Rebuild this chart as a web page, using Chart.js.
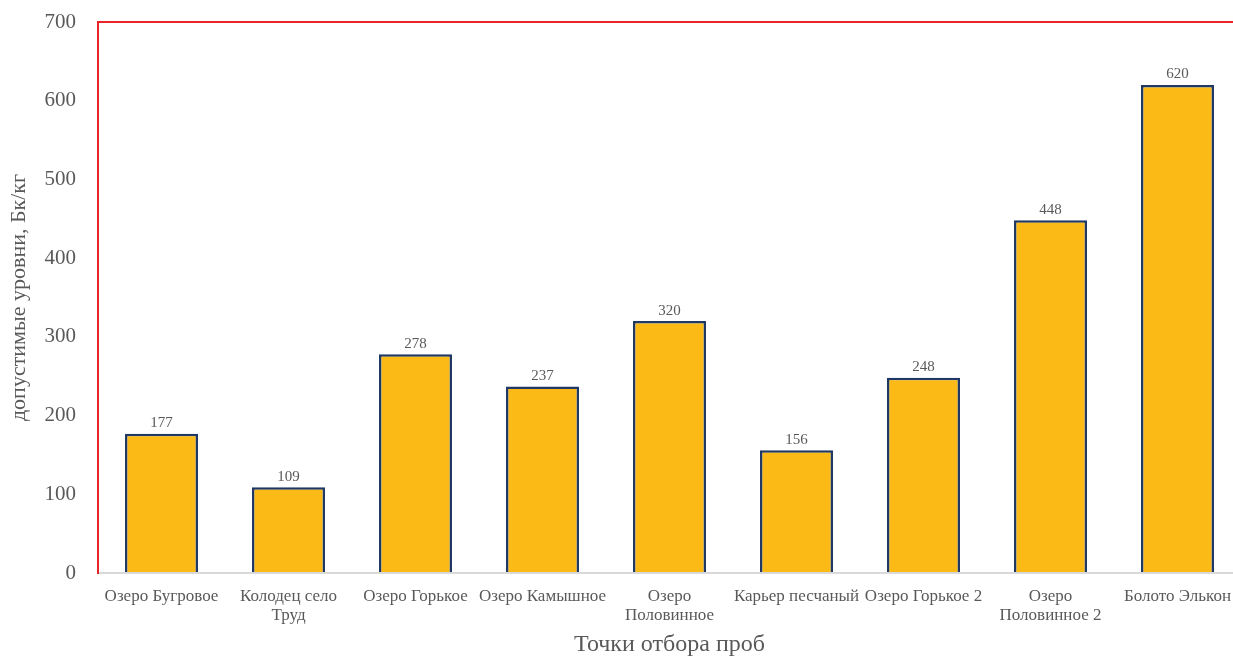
<!DOCTYPE html>
<html>
<head>
<meta charset="utf-8">
<script src="https://cdn.jsdelivr.net/npm/chart.js@4.4.1/dist/chart.umd.min.js"></script>
<style>
  html, body { margin: 0; padding: 0; background: #fff; overflow: hidden; }
  #wrap { width: 1241px; height: 657px; }
</style>
</head>
<body>
<div id="wrap"><canvas id="c" width="1241" height="657"></canvas></div>
<script>
// Sampling points and measured activity levels
const categories = [
  'Озеро Бугровое',
  ['Колодец село', 'Труд'],
  'Озеро Горькое',
  'Озеро Камышное',
  ['Озеро', 'Половинное'],
  'Карьер песчаный',
  'Озеро Горькое 2',
  ['Озеро', 'Половинное 2'],
  'Болото Элькон'
];
const values = [177, 109, 278, 237, 320, 156, 248, 448, 620];
const yTicks = [0, 100, 200, 300, 400, 500, 600, 700];

const serif = '"Liberation Serif", "Times New Roman", serif';
const grey = '#595959';

// Value labels above each bar
const valueLabels = {
  id: 'valueLabels',
  afterDatasetsDraw(chart) {
    const ctx = chart.ctx;
    const meta = chart.getDatasetMeta(0);
    ctx.save();
    ctx.font = '15px ' + serif;
    ctx.fillStyle = grey;
    ctx.textAlign = 'center';
    ctx.textBaseline = 'bottom';
    meta.data.forEach((bar, i) => {
      ctx.fillText(String(values[i]), bar.x, bar.y - 3);
    });
    ctx.restore();
  }
};

new Chart(document.getElementById('c'), {
  type: 'bar',
  data: {
    labels: categories,
    datasets: [{
      data: values,
      backgroundColor: '#FBBA16',
      borderColor: '#1F3864',
      borderWidth: 2.5,
      categoryPercentage: 1,
      barPercentage: 0.575
    }]
  },
  options: {
    responsive: false,
    animation: false,
    layout: { padding: { top: 22, right: 0, bottom: 0, left: 0 } },
    plugins: { legend: { display: false }, tooltip: { enabled: false } },
    scales: {
      x: {
        grid: { display: false, drawTicks: false },
        border: { display: true, color: '#D9D9D9', width: 2 },
        ticks: {
          color: grey,
          font: { family: serif, size: 17, lineHeight: 1.1 },
          padding: 14,
          maxRotation: 0,
          autoSkip: false
        },
        title: {
          display: true,
          text: 'Точки отбора проб',
          color: grey,
          font: { family: serif, size: 24, lineHeight: 1.0 },
          padding: { top: 8, bottom: 0 }
        },
        afterFit(scale) {
          scale.height = 84;
          // category labels sit inside their slots, no side overhang needed
          scale.paddingLeft = 0;
          scale.paddingRight = 0;
        }
      },
      y: {
        min: 0,
        max: 700,
        afterBuildTicks(scale) { scale.ticks = yTicks.map(v => ({ value: v })); },
        grid: {
          drawTicks: false,
          lineWidth: 2,
          color: ctx => (ctx.tick && ctx.tick.value === 700) ? '#E8262A' : 'rgba(0,0,0,0)'
        },
        border: { display: true, color: '#E8262A', width: 2 },
        ticks: {
          color: grey,
          font: { family: serif, size: 21 },
          padding: 22
        },
        title: {
          display: true,
          text: 'допустимые уровни, Бк/кг',
          color: grey,
          font: { family: serif, size: 22 },
          padding: { top: 6, bottom: 0 }
        },
        afterFit(scale) {
          scale.width = 98;
          // the top label may overhang the plot edge; the layout padding covers it
          scale.paddingTop = 0;
        }
      }
    }
  },
  plugins: [valueLabels]
});
</script>
</body>
</html>
